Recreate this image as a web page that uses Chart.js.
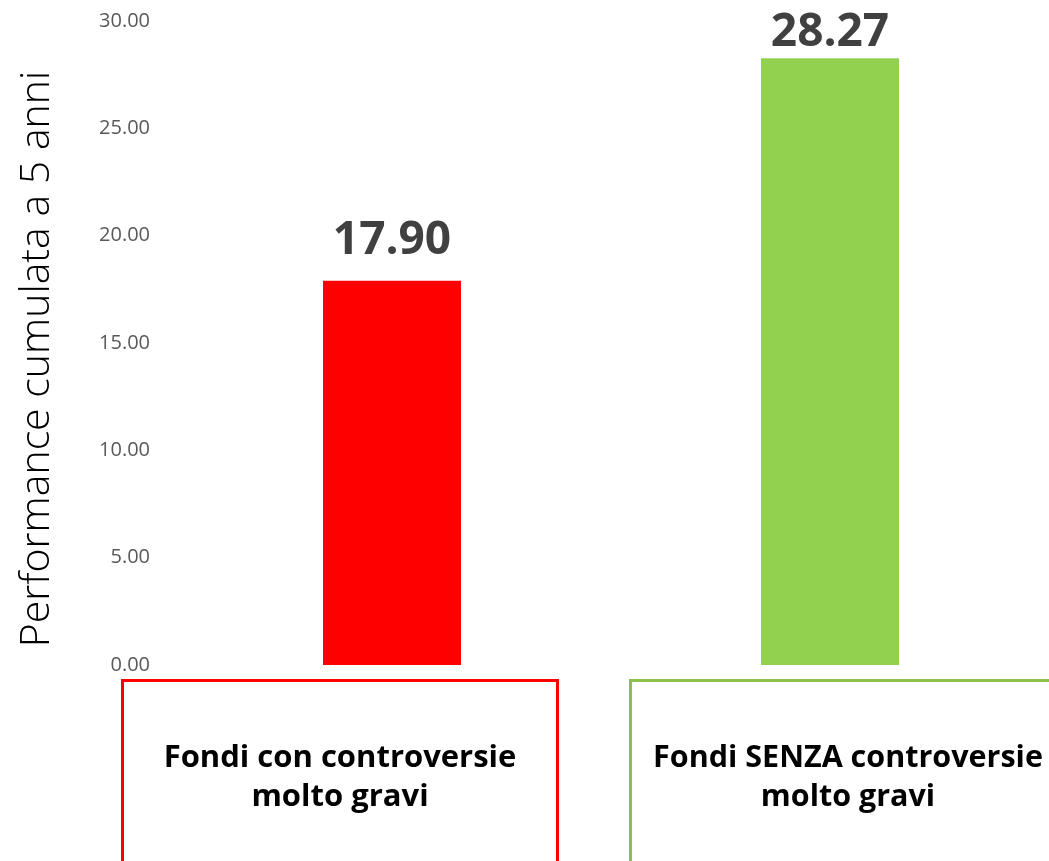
<!DOCTYPE html>
<html>
<head>
<meta charset="utf-8">
<script src="https://cdn.jsdelivr.net/npm/chart.js@4"></script>
<style>
html,body{margin:0;padding:0;background:#fff;}
#wrap{width:1049px;height:861px;}
</style>
</head>
<body>
<div id="wrap"><canvas id="c" width="1049" height="861"></canvas></div>
<script>
const categories = [["Fondi con controversie", "molto gravi"], ["Fondi SENZA controversie", "molto gravi"]];
const performance = [17.90, 28.27];
const barColors = ["#FF0000", "#92D050"];
const boxColors = ["#FF0000", "#8DC04A"];
const yTicks = [0, 5, 10, 15, 20, 25, 30];
const yTitle = "Performance cumulata a 5 anni";

const overlay = {
  id: 'overlay',
  afterDatasetsDraw(chart) {
    const ctx = chart.ctx;
    const meta = chart.getDatasetMeta(0);
    // y axis title
    ctx.save();
    ctx.translate(37, 359);
    ctx.rotate(-Math.PI / 2);
    ctx.font = '300 41px "Open Sans", sans-serif';
    ctx.fillStyle = '#000000';
    ctx.textAlign = 'center';
    ctx.textBaseline = 'middle';
    ctx.fillText(yTitle, 0, 0);
    ctx.restore();
    // value labels
    ctx.save();
    ctx.font = 'bold 46px "Open Sans", sans-serif';
    ctx.fillStyle = '#404040';
    ctx.textAlign = 'center';
    ctx.textBaseline = 'alphabetic';
    meta.data.forEach((bar, i) => {
      const y = Math.max(bar.y - 27, 46);
      ctx.fillText(performance[i].toFixed(2), bar.x, y);
    });
    ctx.restore();
    // category boxes
    const boxes = [{l: 122.5, r: 557.5, cx: 340, fs: 31}, {l: 630.5, r: 1067, cx: 848, fs: 30.5}];
    ctx.save();
    boxes.forEach((b, i) => {
      ctx.strokeStyle = boxColors[i];
      ctx.lineWidth = 3;
      ctx.beginPath();
      ctx.moveTo(b.l, 900);
      ctx.lineTo(b.l, 680.5);
      ctx.lineTo(b.r, 680.5);
      ctx.lineTo(b.r, 900);
      ctx.stroke();
      ctx.fillStyle = '#000000';
      ctx.font = 'bold ' + b.fs + 'px "Open Sans", sans-serif';
      ctx.textAlign = 'center';
      ctx.textBaseline = 'alphabetic';
      categories[i].forEach((line, j) => {
        ctx.fillText(line, b.cx, 767 + j * 39);
      });
    });
    ctx.restore();
  }
};

new Chart(document.getElementById('c'), {
  type: 'bar',
  data: {
    labels: categories,
    datasets: [{
      data: performance,
      backgroundColor: barColors,
      borderWidth: 0,
      categoryPercentage: 1.0,
      barPercentage: 0.315
    }]
  },
  options: {
    responsive: false,
    animation: false,
    devicePixelRatio: 1,
    layout: { padding: { top: 21, bottom: 196, left: 0, right: 0 } },
    plugins: { legend: { display: false }, tooltip: { enabled: false } },
    scales: {
      x: {
        display: false,
        grid: { display: false }
      },
      y: {
        min: 0,
        max: 30,
        afterBuildTicks(scale) { scale.ticks = yTicks.map(v => ({ value: v })); },
        afterFit(scale) { scale.width = 173; scale.paddingTop = 0; scale.paddingBottom = 0; },
        grid: { display: false, drawTicks: false },
        border: { display: false },
        ticks: {
          padding: 23,
          color: '#595959',
          font: { family: '"Open Sans", sans-serif', size: 20 },
          callback: (v) => Number(v).toFixed(2)
        },
        title: { display: false }
      }
    }
  },
  plugins: [overlay]
});
</script>
</body>
</html>
